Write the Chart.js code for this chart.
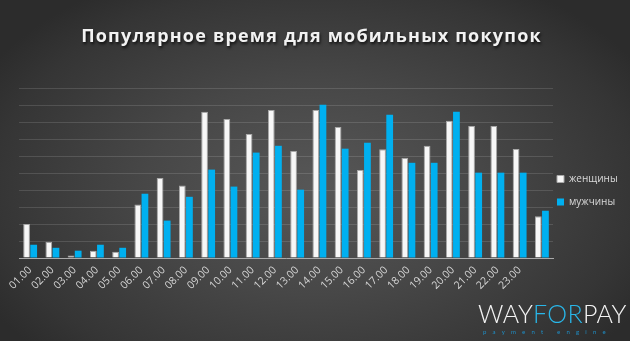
<!DOCTYPE html>
<html><head><meta charset="utf-8">
<script src="https://cdn.jsdelivr.net/npm/chart.js@4/dist/chart.umd.min.js"></script>
<style>
html,body{margin:0;padding:0;}
body{width:630px;height:341px;overflow:hidden;position:relative;
background:radial-gradient(ellipse 60% 70% at 50% 55%, #575757 0%, #474747 45%, #353535 85%, #2c2c2c 100%);}
#c{position:absolute;left:0;top:0;}
#logo{position:absolute;left:478px;top:299px;width:145px;font-family:Lato,'Open Sans',sans-serif;}
#logo .main{font-size:25px;font-weight:300;color:#f4f4f4;letter-spacing:0.3px;line-height:28px;white-space:nowrap;}
#logo .main span{color:#29b6e8;}
#logo .sub{font-size:6px;color:#1e8fc8;letter-spacing:6.2px;line-height:8px;margin-left:5px;margin-top:1px;white-space:nowrap;}
</style></head>
<body>
<canvas id="c" width="630" height="341"></canvas>
<div id="logo"><div class="main">WAY<span>FOR</span>PAY</div><div class="sub">payment engine</div></div>
<script>
const categories = ['01.00','02.00','03.00','04.00','05.00','06.00','07.00','08.00','09.00','10.00','11.00','12.00','13.00','14.00','15.00','16.00','17.00','18.00','19.00','20.00','21.00','22.00','23.00',''];
const women = [2.0, 0.95, 0.15, 0.43, 0.37, 3.15, 4.7, 4.27, 8.6, 8.18, 7.3, 8.7, 6.3, 8.7, 7.7, 5.18, 6.4, 5.88, 6.6, 8.08, 7.76, 7.76, 6.41, 2.45];
const men = [0.78, 0.6, 0.43, 0.78, 0.6, 3.78, 2.2, 3.6, 5.2, 4.2, 6.2, 6.6, 4.02, 9.02, 6.43, 6.78, 8.43, 5.6, 5.6, 8.6, 5.02, 5.02, 5.02, 2.78];
const seriesNames = ['женщины','мужчины'];
const titleText = 'Популярное время для мобильных покупок';

const legendPlace = {
  id: 'legendPlace',
  afterLayout(chart) {
    const L = chart.legend;
    if (L) {
      const w = L.width;
      L.left = 544; L.right = 544 + w;
      L.top = 100; L.bottom = 281; L.height = 181;
    }
    const T = chart.titleBlock;
    if (T) { T.left = 0; T.right = chart.width - 7; T.width = chart.width - 7; }
  }
};
const titleStyle = {
  id: 'titleStyle',
  afterInit(chart) {
    const tb = chart.titleBlock;
    const orig = tb.draw.bind(tb);
    tb.draw = function() {
      const ctx = chart.ctx;
      ctx.save();
      ctx.letterSpacing = '1.2px';
      ctx.shadowColor = 'rgba(0,0,0,0.75)';
      ctx.shadowOffsetX = 1; ctx.shadowOffsetY = 2; ctx.shadowBlur = 3;
      orig();
      ctx.restore();
    };
  }
};

new Chart(document.getElementById('c'), {
  type: 'bar',
  data: {
    labels: categories,
    datasets: [
      {label: seriesNames[0], data: women, backgroundColor: '#f7f7f7', borderColor: '#a8a8a8', borderWidth: 1, categoryPercentage: 0.64, barPercentage: 0.95},
      {label: seriesNames[1], data: men, backgroundColor: '#00b0f0', borderWidth: 0, categoryPercentage: 0.64, barPercentage: 0.95}
    ]
  },
  options: {
    responsive: false,
    animation: false,
    events: [],
    layout: {padding: {left: 0, right: 77, top: 0, bottom: 0}},
    plugins: {
      title: {display: true, text: titleText, color: '#f2f2f2',
        font: {family: "'Open Sans'", size: 18, weight: 'bold', lineHeight: 1.2},
        padding: {top: 26, bottom: 40.4}},
      legend: {position: 'chartArea', align: 'center',
        labels: {color: '#d9d9d9', font: {family: "'Open Sans'", size: 10}, boxWidth: 7, boxHeight: 7, padding: 13}},
      tooltip: {enabled: false}
    },
    scales: {
      x: {
        grid: {display: false, drawTicks: false},
        border: {display: true, color: '#a9a9a9', width: 1},
        ticks: {color: '#d6d6d6', font: {family: "'Open Sans'", size: 10.5}, minRotation: 45, maxRotation: 45, autoSkip: false, padding: 6},
        afterFit(s) { s.height = 83; }
      },
      y: {
        min: 0, max: 10,
        ticks: {display: false, stepSize: 1},
        grid: {color: 'rgba(255,255,255,0.13)', drawTicks: false, lineWidth: 1},
        border: {display: false},
        afterFit(s) { s.width = 19; }
      }
    }
  },
  plugins: [legendPlace, titleStyle]
});
</script>
</body></html>
